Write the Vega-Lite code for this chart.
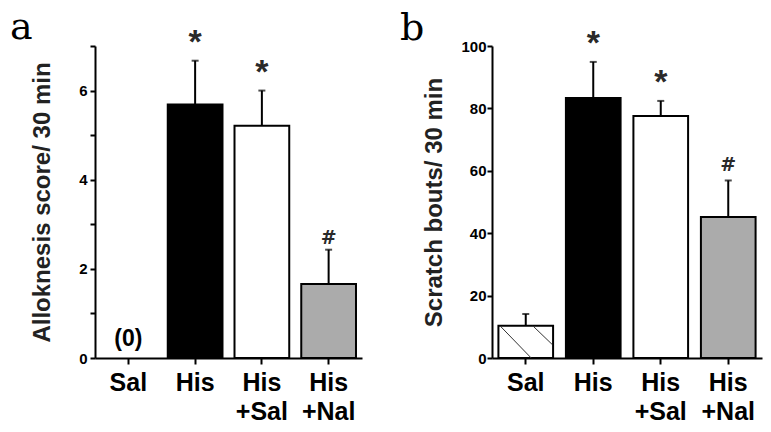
{
  "$schema": "https://vega.github.io/schema/vega-lite/v6.json",
  "padding": {"left": 10, "top": 8, "right": 5, "bottom": 5},
  "background": "white",
  "datasets": {
    "allok": [
      {"group": "Sal", "mean": 0, "upper": 0, "sig": "", "note": "(0)"},
      {"group": "His", "mean": 5.69, "upper": 6.67, "sig": "*", "note": ""},
      {"group": "His+Sal", "mean": 5.21, "upper": 6.0, "sig": "*", "note": ""},
      {"group": "His+Nal", "mean": 1.66, "upper": 2.43, "sig": "#", "note": ""}
    ],
    "scratch": [
      {"group": "Sal", "mean": 10.3, "upper": 14.1, "sig": "", "note": ""},
      {"group": "His", "mean": 83.3, "upper": 94.9, "sig": "*", "note": ""},
      {"group": "His+Sal", "mean": 77.6, "upper": 82.4, "sig": "*", "note": ""},
      {"group": "His+Nal", "mean": 45.2, "upper": 56.9, "sig": "#", "note": ""}
    ]
  },
  "hconcat": [
    {
      "width": 267,
      "height": 312,
      "title": {"text": "a", "anchor": "start", "frame": "group", "font": "DejaVu Serif", "fontSize": 38, "fontWeight": "normal", "color": "black", "dx": -85, "dy": 59, "offset": 8, "baseline": "alphabetic"},
      "data": {"name": "allok"},
      "encoding": {
        "x": {"field": "group", "type": "nominal", "sort": ["Sal", "His", "His+Sal", "His+Nal"], "scale": {"domain": ["Sal", "His", "His+Sal", "His+Nal"], "paddingInner": 0.18, "paddingOuter": 0.09}, "axis": {"title": null}}
      },
      "layer": [
        {
          "transform": [{"filter": "datum.upper > datum.mean"}],
          "mark": {"type": "rule", "color": "black", "strokeWidth": 2},
          "encoding": {
            "y": {"field": "mean", "type": "quantitative", "scale": {"domain": [0, 7], "nice": false},
              "axis": {"title": "Alloknesis score/ 30 min", "values": [0, 1, 2, 3, 4, 5, 6, 7], "labelExpr": "datum.value % 2 == 0 ? datum.label : ''", "labelFontSize": 15, "titlePadding": 24}},
            "y2": {"field": "upper"}
          }
        },
        {
          "transform": [{"filter": "datum.upper > datum.mean"}],
          "mark": {"type": "tick", "color": "black", "thickness": 2, "size": 7},
          "encoding": {"y": {"field": "upper", "type": "quantitative"}}
        },
        {
          "transform": [{"filter": "datum.mean > 0"}],
          "mark": {"type": "bar", "stroke": "black", "strokeWidth": 2},
          "encoding": {
            "y": {"field": "mean", "type": "quantitative"},
            "color": {"field": "group", "type": "nominal", "legend": null,
              "scale": {"domain": ["Sal", "His", "His+Sal", "His+Nal"], "range": ["white", "black", "white", "#ababab"]}}
          }
        },
        {
          "transform": [{"filter": "datum.sig == '*'"}],
          "mark": {"type": "text", "fontSize": 34, "fontWeight": "bold", "font": "Liberation Sans", "color": "#2a2a2a", "baseline": "alphabetic", "dy": -8},
          "encoding": {"y": {"field": "upper", "type": "quantitative"}, "text": {"field": "sig"}}
        },
        {
          "transform": [{"filter": "datum.sig == '#'"}],
          "mark": {"type": "text", "fontSize": 19, "fontWeight": "bold", "font": "DejaVu Sans", "color": "#2a2a2a", "baseline": "alphabetic", "dy": -6},
          "encoding": {"y": {"field": "upper", "type": "quantitative"}, "text": {"field": "sig"}}
        },
        {
          "transform": [{"filter": "datum.note != ''"}],
          "mark": {"type": "text", "fontSize": 23, "fontWeight": "bold", "font": "Liberation Sans", "color": "black", "baseline": "alphabetic", "dy": -12},
          "encoding": {"y": {"field": "mean", "type": "quantitative"}, "text": {"field": "note"}}
        }
      ]
    },
    {
      "width": 270,
      "height": 312,
      "title": {"text": "b", "anchor": "start", "frame": "group", "font": "DejaVu Serif", "fontSize": 38, "fontWeight": "normal", "color": "black", "dx": -92, "dy": 59, "offset": 8, "baseline": "alphabetic"},
      "data": {"name": "scratch"},
      "encoding": {
        "x": {"field": "group", "type": "nominal", "sort": ["Sal", "His", "His+Sal", "His+Nal"], "scale": {"domain": ["Sal", "His", "His+Sal", "His+Nal"], "paddingInner": 0.19, "paddingOuter": 0.095}, "axis": {"title": null}}
      },
      "layer": [
        {
          "mark": {"type": "rule", "color": "black", "strokeWidth": 2},
          "encoding": {
            "y": {"field": "mean", "type": "quantitative", "scale": {"domain": [0, 100], "nice": false},
              "axis": {"title": "Scratch bouts/ 30 min", "values": [0, 10, 20, 30, 40, 50, 60, 70, 80, 90, 100], "labelExpr": "datum.value % 20 == 0 ? datum.label : ''", "labelFontSize": 15, "titlePadding": 14, "labelPadding": 1}},
            "y2": {"field": "upper"}
          }
        },
        {
          "mark": {"type": "tick", "color": "black", "thickness": 2, "size": 7},
          "encoding": {"y": {"field": "upper", "type": "quantitative"}}
        },
        {
          "mark": {"type": "bar", "stroke": "black", "strokeWidth": 2},
          "encoding": {
            "y": {"field": "mean", "type": "quantitative"},
            "color": {"field": "group", "type": "nominal", "legend": null,
              "scale": {"domain": ["Sal", "His", "His+Sal", "His+Nal"], "range": ["white", "black", "white", "#ababab"]}}
          }
        },
        {
          "transform": [{"filter": "datum.group == 'Sal'"}],
          "mark": {"type": "rule", "color": "#333333", "strokeWidth": 1},
          "encoding": {
            "x": {"field": "group", "type": "nominal", "bandPosition": 0.03},
            "x2": {"field": "group", "bandPosition": 0.6},
            "y": {"field": "mean", "type": "quantitative"},
            "y2": {"datum": 0}
          }
        },
        {
          "transform": [{"filter": "datum.group == 'Sal'"}],
          "mark": {"type": "rule", "color": "#333333", "strokeWidth": 1},
          "encoding": {
            "x": {"field": "group", "type": "nominal", "bandPosition": 0.63},
            "x2": {"field": "group", "bandPosition": 0.98},
            "y": {"field": "mean", "type": "quantitative"},
            "y2": {"datum": 4.4}
          }
        },
        {
          "transform": [{"filter": "datum.sig == '*'"}],
          "mark": {"type": "text", "fontSize": 34, "fontWeight": "bold", "font": "Liberation Sans", "color": "#2a2a2a", "baseline": "alphabetic", "dy": -8},
          "encoding": {"y": {"field": "upper", "type": "quantitative"}, "text": {"field": "sig"}}
        },
        {
          "transform": [{"filter": "datum.sig == '#'"}],
          "mark": {"type": "text", "fontSize": 19, "fontWeight": "bold", "font": "DejaVu Sans", "color": "#2a2a2a", "baseline": "alphabetic", "dy": -9},
          "encoding": {"y": {"field": "upper", "type": "quantitative"}, "text": {"field": "sig"}}
        }
      ]
    }
  ],
  "spacing": 130,
  "bounds": "flush",
  "config": {
    "view": {"stroke": null},
    "axis": {
      "grid": false,
      "domainColor": "black",
      "domainWidth": 2,
      "tickColor": "black",
      "tickWidth": 2,
      "labelFont": "Liberation Sans",
      "labelFontWeight": "bold",
      "labelColor": "black",
      "titleFont": "Liberation Sans",
      "titleFontWeight": "bold",
      "titleColor": "#222222",
      "titleFontSize": 24
    },
    "axisY": {"tickSize": 5, "labelPadding": 3},
    "axisX": {"labelFontSize": 25, "labelAngle": 0, "tickSize": 6, "labelPadding": 6, "labelBaseline": "top", "labelLineHeight": 29,
      "labelExpr": "split(replace(datum.label, '+', '|+'), '|')"}
  }
}
